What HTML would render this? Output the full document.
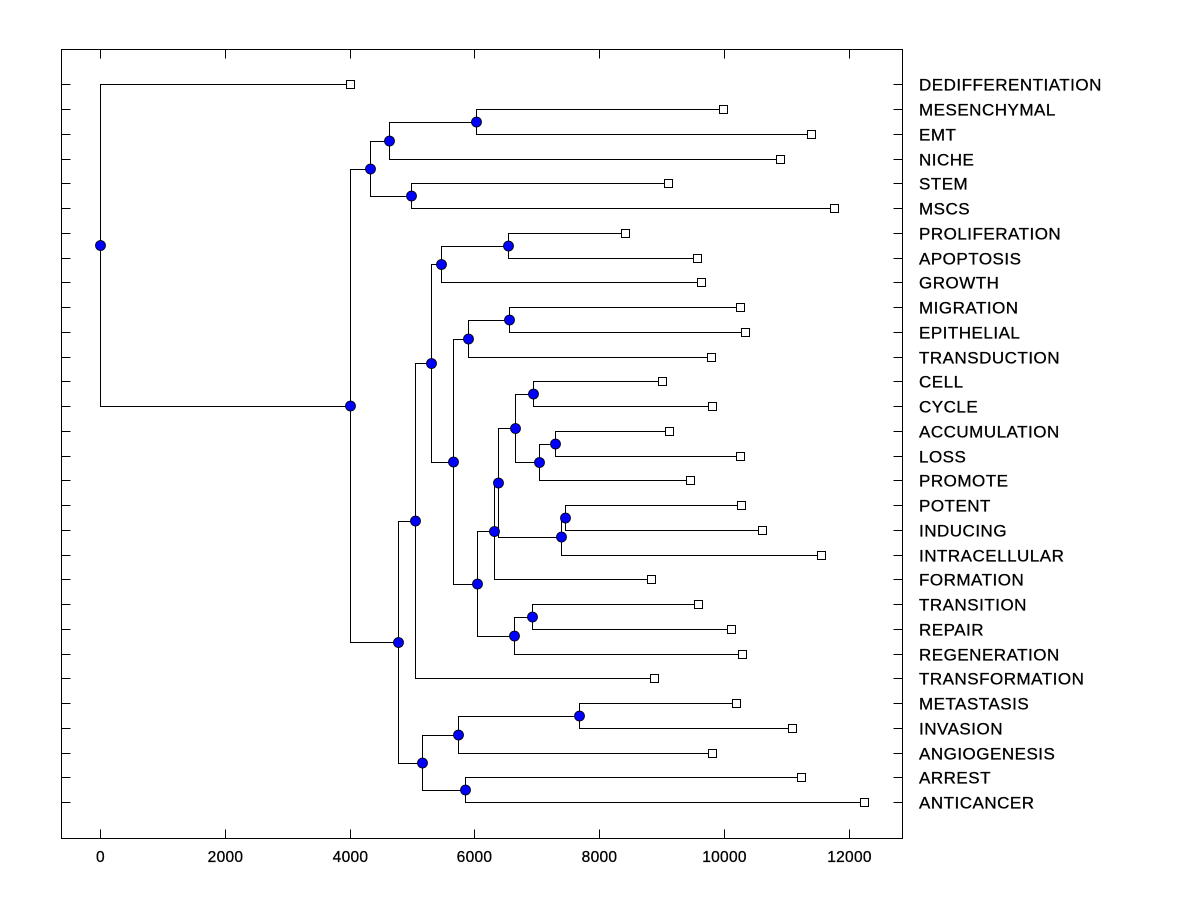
<!DOCTYPE html>
<html><head><meta charset="utf-8"><style>
body{margin:0;background:#fff;}
svg{display:block;font-family:"Liberation Sans",Arial,sans-serif;}
</style></head><body>
<svg id="chart" width="1200" height="900"></svg>
<script>
const leafLabels=["DEDIFFERENTIATION","MESENCHYMAL","EMT","NICHE","STEM","MSCS","PROLIFERATION","APOPTOSIS","GROWTH","MIGRATION","EPITHELIAL","TRANSDUCTION","CELL","CYCLE","ACCUMULATION","LOSS","PROMOTE","POTENT","INDUCING","INTRACELLULAR","FORMATION","TRANSITION","REPAIR","REGENERATION","TRANSFORMATION","METASTASIS","INVASION","ANGIOGENESIS","ARREST","ANTICANCER"];
const leafValues=[4008,9987,11400,10900,9105,11770,8415,9570,9634,10260,10340,9794,9008,9810,9120,10260,9457,10275,10610,11560,8830,9585,10115,10290,8880,10195,11090,9810,11240,12250];
// internal nodes: [name, height, childA, childB]; children are leaf indices (numbers) or node names
const nodeList=[
["F",6025,1,2],["D",4630,"F",3],["E",4980,4,5],["B",4325,"D","E"],
["L",6540,6,7],["J",5465,"L",8],["O",6555,9,10],["M",5900,"O",11],
["U",6940,12,13],["W",7295,14,15],["V",7035,"W",16],["S",6650,"U","V"],
["X",7450,17,18],["T",7390,"X",19],["R",6380,"S","T"],["P",6315,"R",20],
["Y",6925,21,22],["Q",6635,"Y",23],["N",6040,"P","Q"],["K",5655,"M","N"],
["I",5310,"J","K"],["G",5045,"I",24],["AB",7675,25,26],["Z",5735,"AB",27],
["AA",5850,28,29],["H",5160,"Z","AA"],["C",4775,"G","H"],["A",4005,"B","C"],
["ROOT",0,0,"A"]];
const xTicks=[0,2000,4000,6000,8000,10000,12000];

const svg=document.getElementById('chart');
const NS='http://www.w3.org/2000/svg';
const L=61.5,R=902.5,T=49.5,B=838.5;
const xs=v=>100.3+v*0.06235;
const ys=i=>84.3+i*24.75;
const rx=v=>Math.round(xs(v))+0.5;
const ry=i=>Math.round(ys(i))+0.5;
function mk(tag,attrs,name){const e=document.createElementNS(NS,tag);for(const k in attrs)e.setAttribute(k,attrs[k]);


svg.appendChild(e);return e;}
mk('rect',{x:L,y:T,width:R-L,height:B-T,fill:'none',stroke:'#000','stroke-width':1,'shape-rendering':'crispEdges'},'plot-frame');
xTicks.forEach(v=>{const x=rx(v);
mk('line',{x1:x,x2:x,y1:B,y2:B-9,stroke:'#000','shape-rendering':'crispEdges'},'x-tick');
mk('line',{x1:x,x2:x,y1:T,y2:T+9,stroke:'#000','shape-rendering':'crispEdges'},'x-tick-top');
const t=mk('text',{x:x,y:862,'text-anchor':'middle','font-size':15.5,'stroke':'#000','stroke-width':0.3,'letter-spacing':0.3},'x-tick-label');t.textContent=v;});
leafLabels.forEach((s,i)=>{const y=ry(i);
mk('line',{x1:L,x2:L+9,y1:y,y2:y,stroke:'#000','shape-rendering':'crispEdges'},'y-tick');
mk('line',{x1:R-9,x2:R,y1:y,y2:y,stroke:'#000','shape-rendering':'crispEdges'},'y-tick-right');
const t=mk('text',{x:919,y:y+6,'font-size':17,'stroke':'#000','stroke-width':0.3,'letter-spacing':0.5},'leaf-label');t.textContent=s;});
const pos={};
function getPos(c){if(typeof c==='number')return{x:rx(leafValues[c]),y:ry(c)};return pos[c];}
const dots=[];
nodeList.forEach(n=>{const a=getPos(n[2]),b=getPos(n[3]);const px=rx(n[1]);
const y=(a.y+b.y)/2;pos[n[0]]={x:px,y:Math.round(y-0.5)+0.5};
mk('polyline',{points:`${a.x},${a.y} ${px},${a.y} ${px},${b.y} ${b.x},${b.y}`,fill:'none',stroke:'#000','stroke-width':1,'shape-rendering':'crispEdges'},'branch-'+n[0]);
dots.push([px,y,n[0]]);});
leafValues.forEach((v,i)=>{mk('rect',{x:rx(v)-4,y:ry(i)-4,width:8,height:8,fill:'#fff',stroke:'#000','shape-rendering':'crispEdges'},'leaf-marker');});
dots.forEach(d=>mk('circle',{cx:d[0],cy:d[1],r:5,fill:'#0000ff',stroke:'#000','stroke-width':0.8},'node-'+d[2]));
</script>
</body></html>
